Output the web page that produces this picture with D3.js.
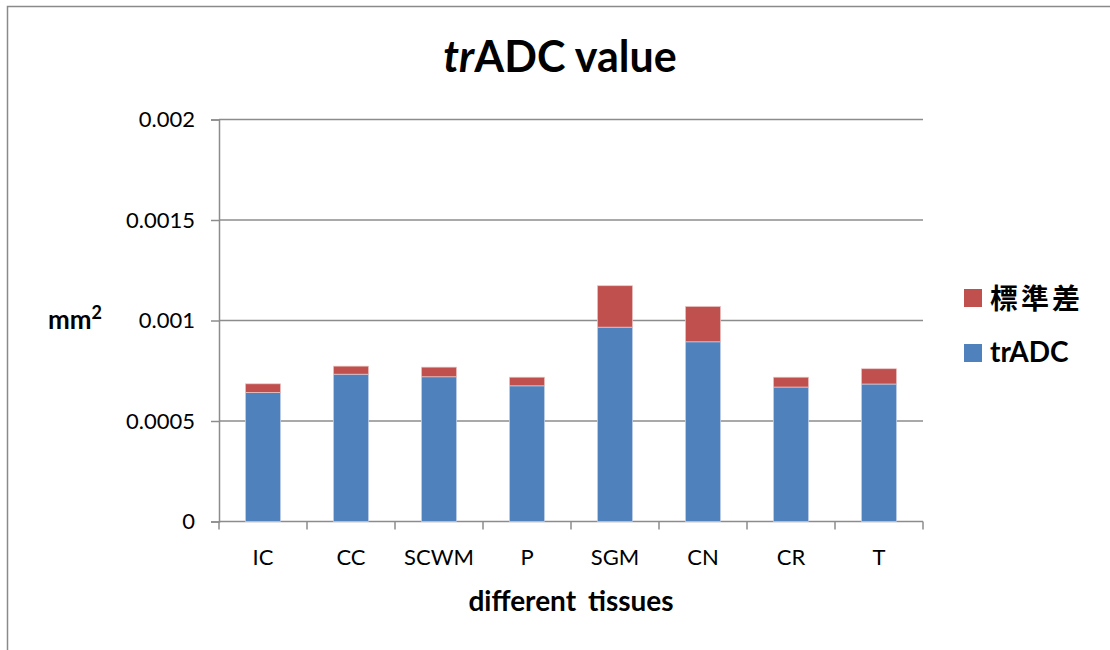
<!DOCTYPE html>
<html>
<head>
<meta charset="utf-8">
<script src="https://cdn.jsdelivr.net/npm/d3@7"></script>
<style>
  body { margin: 0; background: #fff; }
  svg text { font-family: Lato, "Open Sans", sans-serif; }
</style>
</head>
<body>
<div id="chart"></div>
<script>
// data
var tissues = ["IC", "CC", "SCWM", "P", "SGM", "CN", "CR", "T"];
var tradc = [0.000642, 0.000733, 0.000720, 0.000675, 0.000967, 0.000894, 0.000669, 0.000684];
var stdev = [0.000043, 0.000040, 0.000048, 0.000043, 0.000206, 0.000176, 0.000049, 0.000076];
var yTicks = [0, 0.0005, 0.001, 0.0015, 0.002];
var yTickLabels = ["0", "0.0005", "0.001", "0.0015", "0.002"];

var width = 1110, height = 650;
var margin = { top: 119.5, left: 219, right: 187, bottom: 128.5 };
var blue = "#4f81bd", red = "#c0504d", gridColor = "#8c8c8c";

var svg = d3.select("#chart").append("svg")
    .attr("width", width).attr("height", height);

// chart frame (cut off at right/bottom like the reference)
svg.append("rect")
    .attr("x", 7.5).attr("y", 6.5)
    .attr("width", 1300).attr("height", 1000)
    .attr("fill", "none").attr("stroke", "#8a8a8a").attr("stroke-width", 1.5);

var x = d3.scaleBand()
    .domain(tissues)
    .range([margin.left, width - margin.right])
    .paddingInner(0.6).paddingOuter(0.3);

var y = d3.scaleLinear()
    .domain([0, 0.002])
    .range([height - margin.bottom, margin.top]);

// grid lines
svg.append("g")
    .selectAll("line")
    .data(yTicks.slice(1))
    .enter().append("line")
    .attr("x1", margin.left).attr("x2", width - margin.right)
    .attr("y1", function(d) { return y(d); })
    .attr("y2", function(d) { return y(d); })
    .attr("stroke", gridColor).attr("stroke-width", 1.5);

// y axis
var axisY = d3.axisLeft(y)
    .tickValues(yTicks)
    .tickFormat(function(d, i) { return yTickLabels[i]; })
    .tickSize(8).tickPadding(16);
var gy = svg.append("g")
    .attr("transform", "translate(" + margin.left + ",0)")
    .call(axisY);
gy.select(".domain").attr("stroke", gridColor).attr("stroke-width", 1.5);
gy.selectAll(".tick line").attr("stroke", gridColor).attr("stroke-width", 1.5);
gy.selectAll(".tick text")
    .attr("font-size", "22px").attr("fill", "#000")
    .style("font-family", "Lato, sans-serif");

// x axis: ticks at category boundaries
var step = x.step();
var bounds = d3.range(tissues.length + 1).map(function(i) { return margin.left + i * step; });
svg.append("line")
    .attr("x1", margin.left).attr("x2", width - margin.right)
    .attr("y1", y(0)).attr("y2", y(0))
    .attr("stroke", gridColor).attr("stroke-width", 1.5);
svg.append("g").selectAll("line")
    .data(bounds)
    .enter().append("line")
    .attr("x1", function(d) { return d; }).attr("x2", function(d) { return d; })
    .attr("y1", y(0)).attr("y2", y(0) + 8)
    .attr("stroke", gridColor).attr("stroke-width", 1.5);

svg.append("g").selectAll("text")
    .data(tissues)
    .enter().append("text")
    .attr("x", function(d) { return x(d) + x.bandwidth() / 2; })
    .attr("y", 565)
    .attr("text-anchor", "middle")
    .attr("font-size", "22px")
    .text(function(d) { return d; });

// stacked bars
var rows = tissues.map(function(t, i) { return { key: t, base: tradc[i], sd: stdev[i] }; });

svg.append("g").selectAll("rect")
    .data(rows)
    .enter().append("rect")
    .attr("x", function(d) { return x(d.key); })
    .attr("width", x.bandwidth())
    .attr("y", function(d) { return y(d.base); })
    .attr("height", function(d) { return y(0) - y(d.base); })
    .attr("fill", blue)
    .attr("stroke", "#c9d6ea").attr("stroke-width", 0.7);

svg.append("g").selectAll("rect")
    .data(rows)
    .enter().append("rect")
    .attr("x", function(d) { return x(d.key); })
    .attr("width", x.bandwidth())
    .attr("y", function(d) { return y(d.base + d.sd); })
    .attr("height", function(d) { return y(d.base) - y(d.base + d.sd); })
    .attr("fill", red)
    .attr("stroke", "#ecc8c7").attr("stroke-width", 0.7);

// title
var title = svg.append("text")
    .attr("x", 560).attr("y", 72)
    .attr("text-anchor", "middle")
    .attr("font-size", "43px").attr("font-weight", "bold");
title.append("tspan").attr("font-style", "italic").text("tr");
title.append("tspan").text("ADC value");

// axis titles
var yt = svg.append("text")
    .attr("x", 48).attr("y", 329)
    .attr("font-size", "26px").attr("font-weight", "bold");
yt.append("tspan").text("mm");
yt.append("tspan").attr("font-size", "18px").attr("dy", "-10").text("2");

svg.append("text")
    .attr("x", 571).attr("y", 611)
    .attr("text-anchor", "middle")
    .attr("font-size", "28px").attr("font-weight", "bold")
    .attr("word-spacing", "5px")
    .text("different tissues");

// legend
var legend = [
    { label: "標準差", color: red, y: 289, cjk: true },
    { label: "trADC", color: blue, y: 344, cjk: false }
];
var lg = svg.append("g").selectAll("g")
    .data(legend)
    .enter().append("g");
lg.append("rect")
    .attr("x", 964).attr("y", function(d) { return d.y; })
    .attr("width", 18).attr("height", 18)
    .attr("fill", function(d) { return d.color; });
lg.append("text")
    .attr("x", 990).attr("y", function(d) { return d.cjk ? d.y + 20 : d.y + 18; })
    .attr("font-size", function(d) { return d.cjk ? "28px" : "28px"; })
    .attr("font-weight", "bold")
    .attr("letter-spacing", function(d) { return d.cjk ? "3px" : "0px"; })
    .style("font-family", function(d) { return d.cjk ? "'Noto Sans CJK TC', sans-serif" : "Lato, sans-serif"; })
    .text(function(d) { return d.label; });
</script>
</body>
</html>
